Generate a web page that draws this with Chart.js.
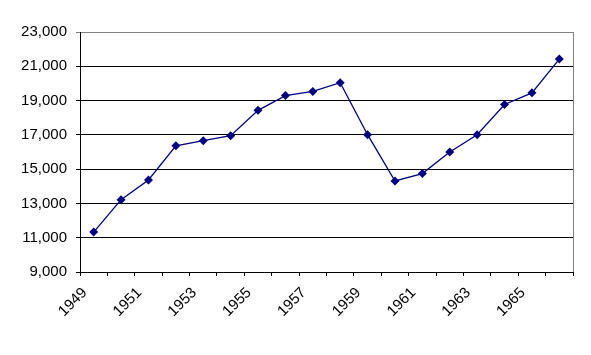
<!DOCTYPE html>
<html>
<head>
<meta charset="utf-8">
<script src="https://cdn.jsdelivr.net/npm/chart.js@4"></script>
<style>
html,body{margin:0;padding:0;background:#fff;}
#wrap{width:591px;height:355px;position:relative;}
</style>
</head>
<body>
<div id="wrap"><canvas id="c" width="591" height="355"></canvas></div>
<script>
const years = ["1949","1950","1951","1952","1953","1954","1955","1956","1957","1958","1959","1960","1961","1962","1963","1964","1965","1966"];
const values = [11330,13220,14370,16360,16660,16950,18430,19290,19530,20040,17010,14310,14740,16000,17010,18770,19450,21420];
const yTicks = [9000,11000,13000,15000,17000,19000,21000,23000];

const borderPlugin = {
  id: 'plotBorder',
  beforeDatasetsDraw(chart) {
    const a = chart.chartArea, ctx = chart.ctx;
    ctx.save();
    ctx.strokeStyle = '#808080';
    ctx.lineWidth = 1;
    ctx.beginPath();
    ctx.moveTo(a.right + 0.5, a.bottom);
    ctx.lineTo(a.right + 0.5, a.top);
    ctx.stroke();
    ctx.restore();
  }
};

new Chart(document.getElementById('c'), {
  type: 'line',
  data: {
    labels: years,
    datasets: [{
      data: values,
      borderColor: '#000080',
      backgroundColor: '#000080',
      borderWidth: 1.3,
      pointStyle: 'rectRot',
      pointRadius: 4.5,
      pointHoverRadius: 4.5,
      pointBackgroundColor: '#000080',
      pointBorderColor: '#000080',
      pointBorderWidth: 0,
      tension: 0
    }]
  },
  options: {
    responsive: false,
    animation: false,
    events: [],
    layout: { padding: { left: 0, right: 18, top: 32, bottom: 0 } },
    plugins: { legend: { display: false }, tooltip: { enabled: false } },
    scales: {
      x: {
        offset: true,
        grid: { offset: true, drawOnChartArea: false, drawTicks: true, tickLength: 4, color: '#000' },
        border: { color: '#000', width: 1 },
        ticks: {
          autoSkip: false,
          minRotation: 45, maxRotation: 45,
          color: '#000',
          font: { family: 'Liberation Sans, Arial, sans-serif', size: 15 },
          padding: 8,
          labelOffset: -9,
          callback: function(v, i) { return i % 2 === 0 ? years[i] : ''; }
        },
        afterFit: function(s) { s.height = 83; }
      },
      y: {
        min: 9000, max: 23000,
        afterBuildTicks: function(s) { s.ticks = yTicks.map(v => ({ value: v })); },
        grid: {
          color: function(c) { return c.tick && c.tick.value === 23000 ? '#808080' : '#000'; },
          lineWidth: 1, tickLength: 4
        },
        border: { color: '#000', width: 1 },
        ticks: {
          color: '#000',
          font: { family: 'Liberation Sans, Arial, sans-serif', size: 15 },
          padding: 9,
          callback: function(v) { return v.toLocaleString('en-US'); }
        },
        afterFit: function(s) { s.width = 80; }
      }
    }
  },
  plugins: [borderPlugin]
});
</script>
</body>
</html>
